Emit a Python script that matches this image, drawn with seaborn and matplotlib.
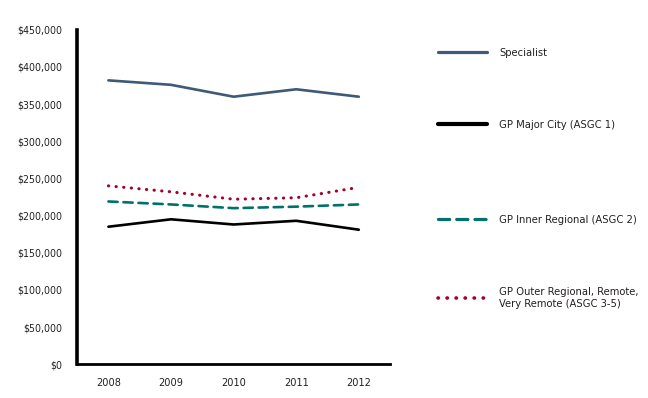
"""Average annual income by practitioner type, 2008-2012."""

import matplotlib.pyplot as plt
import numpy as np
import pandas as pd
import seaborn as sns
from matplotlib import font_manager
from matplotlib.lines import Line2D
from matplotlib.ticker import FuncFormatter, FixedLocator

years = ["2008", "2009", "2010", "2011", "2012"]
specialist = [382000, 376000, 360000, 370000, 360000]
gp_major_city = [185000, 195000, 188000, 193000, 181000]
gp_inner_regional = [219000, 215000, 210000, 212000, 215000]
gp_outer_regional = [240000, 232000, 222000, 224000, 238000]

series_names = [
    "Specialist",
    "GP Major City (ASGC 1)",
    "GP Inner Regional (ASGC 2)",
    "GP Outer Regional, Remote,\nVery Remote (ASGC 3-5)",
]

frame = pd.DataFrame(
    {
        "year": np.tile(np.arange(len(years)), 4),
        "income": specialist + gp_major_city + gp_inner_regional + gp_outer_regional,
        "series": np.repeat(series_names, len(years)),
    }
)

sns.set_style("white")
names = {f.name for f in font_manager.fontManager.ttflist}
narrow = [n for n in ("Liberation Sans Narrow", "DejaVu Sans Condensed") if n in names]
plt.rcParams["font.family"] = narrow + ["DejaVu Sans"]
plt.rcParams["font.stretch"] = "condensed"
plt.rcParams["text.color"] = "#231f20"
plt.rcParams["xtick.labelcolor"] = "#231f20"
plt.rcParams["ytick.labelcolor"] = "#231f20"

styles = {
    series_names[0]: dict(color="#3e5a76", lw=1.9, ls="-"),
    series_names[1]: dict(color="#000000", lw=1.9, ls="-"),
    series_names[2]: dict(color="#00726a", lw=1.9, ls=(0, (3.5, 2.2))),
    series_names[3]: dict(color="#a3002c", lw=2.2, ls=(0, (0.1, 2.4))),
}

fig = plt.figure(figsize=(6.48, 3.98), dpi=100)
ax = fig.add_axes([0.119, 0.085, 0.483, 0.84])

for name, style in styles.items():
    part = frame[frame["series"] == name]
    sns.lineplot(
        data=part, x="year", y="income", ax=ax, color=style["color"],
        linewidth=style["lw"], linestyle=style["ls"], legend=False,
    )
for line in ax.lines:
    line.set_dash_capstyle("round")

ax.set_xlim(-0.5, len(years) - 0.5)
ax.set_ylim(0, 450000)
ax.set_yticks(np.arange(0, 450001, 50000))
ax.yaxis.set_major_formatter(FuncFormatter(lambda v, _: f"${v:,.0f}"))
ax.set_xticks(np.arange(len(years)))
ax.set_xticklabels(years)
ax.xaxis.set_minor_locator(FixedLocator(np.arange(0.5, len(years), 1.0)))
ax.tick_params(axis="x", which="major", length=0, pad=10, labelsize=7.8)
ax.tick_params(axis="x", which="minor", length=5, width=2, direction="out", color="black")
ax.tick_params(axis="y", length=5, width=2, direction="out", color="black", pad=6, labelsize=7.6)
ax.set_xlabel("")
ax.set_ylabel("")

for side in ("top", "right"):
    ax.spines[side].set_visible(False)
ax.spines["left"].set_linewidth(2.6)
ax.spines["bottom"].set_linewidth(2.0)
ax.spines["left"].set_color("black")
ax.spines["bottom"].set_color("black")

# one legend box per entry so the uneven spacing of the original can be kept
legend_y = [0.867, 0.686, 0.447, 0.252]
for (name, style), y in zip(styles.items(), legend_y):
    lw = 3.0 if name == series_names[1] else style["lw"] + 0.4
    handle = Line2D([], [], color=style["color"], lw=lw, linestyle=style["ls"],
                    dash_capstyle="round")
    fig.legend(
        [handle], [name], loc="center left", bbox_to_anchor=(0.676, y),
        frameon=False, fontsize=8, handlelength=4.4, handletextpad=1.1,
        borderaxespad=0, borderpad=0,
    )

fig.savefig("out.png", dpi=100)
